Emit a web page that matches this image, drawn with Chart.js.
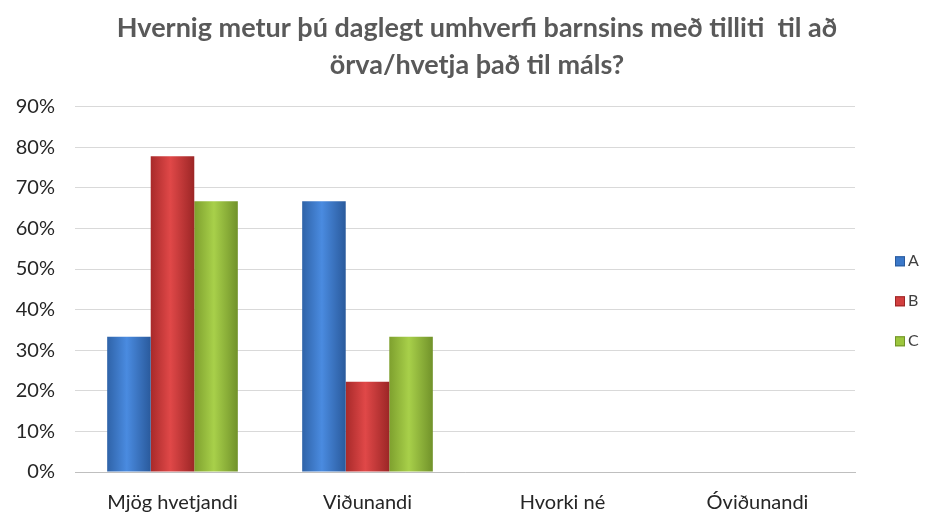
<!DOCTYPE html>
<html>
<head>
<meta charset="utf-8">
<script src="https://cdn.jsdelivr.net/npm/chart.js@4/dist/chart.umd.min.js"></script>
<style>
  html, body { margin: 0; padding: 0; background: #fff; }
  #wrap { width: 934px; height: 517px; }
</style>
</head>
<body>
<div id="wrap"><canvas id="chart" width="934" height="517"></canvas></div>
<script>
const categories = ['Mjög hvetjandi', 'Viðunandi', 'Hvorki né', 'Óviðunandi'];
const seriesNames = ['A', 'B', 'C'];
const valuesA = [33.3, 66.7, 0, 0];
const valuesB = [77.8, 22.2, 0, 0];
const valuesC = [66.7, 33.3, 0, 0];
const yTicks = [0, 10, 20, 30, 40, 50, 60, 70, 80, 90];

// colours: [edge, middle, edge]
const shades = [
  ['#2f63a8', '#4a8be0', '#2a5a9c'],
  ['#a82a2a', '#e04848', '#9c2626'],
  ['#7ea02e', '#a8d04a', '#71922a']
];
const solid = ['#3a78c9', '#d23f3f', '#9cc63d'];

const catPct = 0.67;
const barPct = 1.0;

function barFill(dsIndex) {
  return ctx => {
    const chart = ctx.chart;
    if (!chart.chartArea || ctx.dataIndex === undefined) return solid[dsIndex];
    const xs = chart.scales.x;
    const catW = xs.width / categories.length;
    const slot = catW * catPct / seriesNames.length;
    const center = xs.getPixelForValue(ctx.dataIndex) - catW * catPct / 2 + slot * (dsIndex + 0.5);
    const w = slot * barPct;
    const g = chart.ctx.createLinearGradient(center - w / 2, 0, center + w / 2, 0);
    const s = shades[dsIndex];
    g.addColorStop(0, s[0]);
    g.addColorStop(0.45, s[1]);
    g.addColorStop(1, s[2]);
    return g;
  };
}

// simple legend on the right, like the original
const sideLegend = {
  id: 'sideLegend',
  afterDraw(chart) {
    const { ctx, chartArea } = chart;
    const mid = (chartArea.top + chartArea.bottom) / 2 + 12;
    ctx.save();
    ctx.font = '16px Lato';
    ctx.textBaseline = 'middle';
    seriesNames.forEach((name, i) => {
      const y = mid + (i - 1) * 40;
      const x = chartArea.right + 40;
      ctx.fillStyle = solid[i];
      ctx.fillRect(x, y - 5, 10, 10);
      ctx.strokeStyle = shades[i][2];
      ctx.lineWidth = 1;
      ctx.strokeRect(x + 0.5, y - 4.5, 9, 9);
      ctx.fillStyle = '#404040';
      ctx.fillText(name, x + 13, y);
    });
    ctx.restore();
  }
};

const allValues = [valuesA, valuesB, valuesC];
const datasets = seriesNames.map((name, i) => ({
  label: name,
  data: allValues[i],
  backgroundColor: barFill(i),
  borderWidth: 0,
  categoryPercentage: catPct,
  barPercentage: barPct
}));

new Chart(document.getElementById('chart'), {
  type: 'bar',
  data: { labels: categories, datasets: datasets },
  plugins: [sideLegend],
  options: {
    responsive: false,
    animation: false,
    // negative right padding nudges the centred title a bit to the right
    layout: { padding: { left: 6, right: -14, top: 0, bottom: -17 } },
    plugins: {
      title: {
        display: true,
        text: ['Hvernig metur þú daglegt umhverfi barnsins með tilliti  til að', 'örva/hvetja það til máls?'],
        color: '#595959',
        font: { family: 'Lato', size: 27, weight: 'bold', lineHeight: 1.4 },
        padding: { top: 9, bottom: 22 }
      },
      legend: { display: false },
      tooltip: { enabled: false }
    },
    scales: {
      x: {
        grid: { display: false, drawTicks: false },
        border: { display: true, color: '#bfbfbf' },
        ticks: { color: '#262626', font: { family: 'Lato', size: 20 }, padding: 19 }
      },
      y: {
        min: 0,
        max: 90,
        afterBuildTicks: axis => { axis.ticks = yTicks.map(v => ({ value: v })); },
        afterFit: axis => { axis.width = 69; },
        grid: { color: '#d9d9d9', drawTicks: false },
        border: { display: false },
        ticks: {
          color: '#262626',
          font: { family: 'Lato', size: 20 },
          padding: 20,
          callback: v => v + '%'
        }
      },
      // empty axis that keeps room for the legend
      side: {
        position: 'right',
        display: true,
        afterFit: axis => { axis.width = 93; },
        grid: { display: false },
        border: { display: false },
        ticks: { display: false }
      }
    }
  }
});
</script>
</body>
</html>
